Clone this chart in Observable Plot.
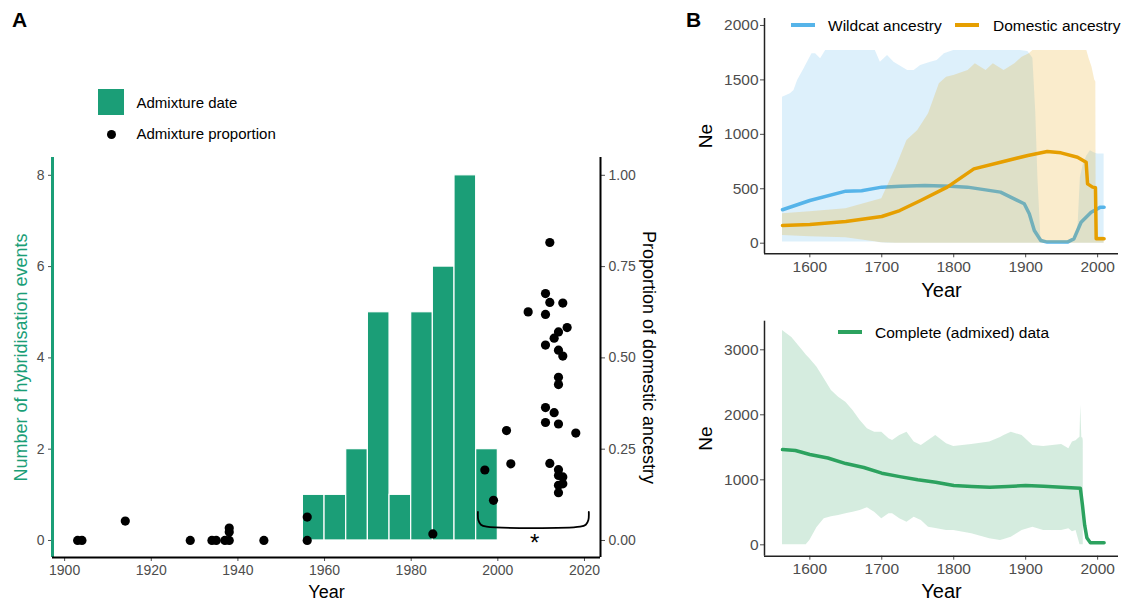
<!DOCTYPE html>
<html><head><meta charset="utf-8">
<script src="https://cdn.jsdelivr.net/npm/d3@7"></script>
<script src="https://cdn.jsdelivr.net/npm/@observablehq/plot@0.6"></script>
<style>
body{margin:0;background:#fff;}
#wrap{position:relative;width:1124px;height:601px;overflow:hidden;font-family:"Liberation Sans",Arial,sans-serif;background:#fff;}
.pl{position:absolute;}
.lbl{position:absolute;white-space:nowrap;line-height:20px;color:#000;}
</style></head><body><div id="wrap"></div>
<script>
const FONT = '"Liberation Sans", Arial, sans-serif';
const GREEN_BAR = "#1b9e77";
const BLUE = "#56B4E9", ORANGE = "#E69F00", GREEN_LINE = "#2ca25f";

// ---------- Panel A data ----------
const binStarts = [1955, 1960, 1965, 1970, 1975, 1980, 1985, 1990, 1995];
const binWidth = 5;
const hybridCounts = [1, 1, 2, 5, 1, 5, 6, 8, 2];
const propYears = [1903,1904,1914,1929,1934,1935,1937,1938,1938,1938,1946,1956,1956,1985,1997,1999,2002,2003,2007,
  2011,2011,2011,2011,2011,2012,2012,2012,2013,2013,2014,2014,2014,2014,2014,2014,2014,2014,2014,2015,2015,2015,2015,2016,2018];
const propValues = [0,0,0.053,0,0,0,0,0,0.023,0.034,0,0,0.064,0.018,0.193,0.11,0.301,0.21,0.626,
  0.676,0.619,0.535,0.364,0.323,0.816,0.652,0.211,0.554,0.35,0.571,0.521,0.447,0.427,0.319,0.194,0.178,0.151,0.131,0.65,0.505,0.174,0.155,0.583,0.294];
const yearTicksA = [1900, 1920, 1940, 1960, 1980, 2000, 2020];
const countTicks = [0, 2, 4, 6, 8];
const propTickLabels = ["0.00", "0.25", "0.50", "0.75", "1.00"];
const maxCount = 8;
const bracketYears = [1995.4, 1995.5, 1996.1, 1997.4, 2019.0, 2020.3, 2020.9, 2021.0];
const bracketProps = [0.078, 0.056, 0.043, 0.038, 0.038, 0.043, 0.056, 0.078];
const starYear = 2008.5, starProp = -0.008;

// ---------- Panel B (top) data ----------
const wildBandYears = [1562,1573,1578,1583,1592,1603,1608,1615,1622,1691,1698,1708,1717,1736,1745,1754,1768,1777,1787,1800,1893,1903,1910,1914,1917,1921,1924,1965,1970,1973,1976,1980,1985,1990,1995,2000,2009];
const wildBandHi = [1341,1372,1403,1495,1602,1740,1740,1694,1770,1770,1663,1724,1663,1587,1587,1633,1663,1678,1740,1770,1770,1760,1700,1200,600,60,25,25,60,180,600,720,800,850,830,820,820];
const wildBandLo = [10,10,10,10,10,10,10,10,10,10,5,0,0,0,0,0,0,0,0,0,0,0,0,0,0,0,0,0,0,0,0,0,0,0,0,0,0];
const domBandYears = [1562,1600,1650,1700,1720,1735,1750,1765,1780,1790,1800,1820,1830,1845,1855,1870,1885,1895,1905,1910,1985,1988,1992,1996,1997.5,1998,2009];
const domBandHi = [270,290,316,408,698,943,1035,1189,1464,1525,1541,1587,1648,1587,1648,1587,1648,1709,1740,1770,1770,1700,1620,1500,1480,60,60];
const domBandLo = [71,60,49,5,0,0,0,0,0,0,0,0,0,0,0,0,0,0,0,0,0,0,0,0,0,0,0];
const wildYears = [1562,1600,1650,1672,1700,1726,1760,1796,1819,1865,1898,1905,1912,1921,1930,1958,1967,1977,1991,2004,2009];
const wildNe = [307,392,478,482,515,524,530,524,515,469,362,270,117,25,10,10,40,193,285,331,331];
const domYears = [1562,1600,1650,1700,1725,1754,1791,1828,1865,1903,1930,1949,1972,1984,1986,1993,1997,1998,2009];
const domNe = [163,172,199,245,300,392,515,683,744,806,842,830,790,744,545,515,510,40,40];
const yearTicksB = [1600, 1700, 1800, 1900, 2000];
const neTicksTop = [0, 500, 1000, 1500, 2000];

// ---------- Panel B (bottom) data ----------
const compBandYears = [1562,1575,1590,1595,1600,1610,1620,1630,1640,1650,1660,1670,1680,1690,1700,1710,1715,1725,1735,1745,1755,1765,1775,1790,1800,1825,1850,1865,1870,1880,1895,1910,1925,1950,1960,1965,1970,1973,1975.5,1976.5,1978,1979.5,1980];
const compBandHi = [3297,3190,2990,2920,2861,2733,2554,2374,2272,2195,2067,1913,1785,1733,1733,1631,1605,1682,1733,1580,1528,1605,1682,1554,1513,1544,1580,1650,1682,1733,1682,1528,1513,1544,1477,1580,1600,1630,1656,2150,1650,1640,1600];
const compBandLo = [0,0,0,0,66,267,400,430,450,477,500,528,569,503,400,477,477,400,349,426,374,272,250,221,221,170,92,67,80,118,221,272,221,221,246,200,221,100,0,0,0,0,0];
const compYears = [1562,1580,1600,1625,1650,1675,1700,1725,1750,1775,1800,1825,1850,1875,1900,1925,1950,1976,1979,1982,1985,1990,2009];
const compNe = [1466,1450,1390,1335,1250,1190,1102,1049,1000,964,912,897,887,897,912,902,887,870,600,300,110,30,30];
const neTicksBottom = [0, 1000, 2000, 3000];

// ---------- tables ----------
const bars = binStarts.map((s, i) => ({start: s, end: s + binWidth, count: hybridCounts[i]}));
const points = propYears.map((y, i) => ({year: y, prop: propValues[i]}));
const bracket = bracketYears.map((y, i) => ({year: y, prop: bracketProps[i]}));
const star = [{year: starYear, prop: starProp, label: "*"}];
const band = (ys, lo, hi) => ys.map((y, i) => ({year: y, lo: lo[i], hi: hi[i]}));
const series = (ys, v) => ys.map((y, i) => ({year: y, ne: v[i]}));

const wrap = document.getElementById("wrap");
function place(el, left, top) { el.classList.add("pl"); el.style.left = left + "px"; el.style.top = top + "px"; wrap.appendChild(el); }

// ---------- Panel A ----------
const xDomA = [1897.2, 2023.7], yDomA = [-0.373, 8.39];
const plotA = Plot.plot({
  width: 680, height: 601,
  marginLeft: 52, marginRight: 80, marginTop: 157, marginBottom: 44,
  x: {domain: xDomA}, y: {domain: yDomA},
  style: {fontFamily: FONT, fontSize: "14px", color: "#4d4d4d", background: "transparent", overflow: "visible"},
  marks: [
    Plot.rectY(bars, {x1: "start", x2: "end", y1: 0, y2: "count", fill: GREEN_BAR, stroke: "white", strokeWidth: 1.2}),
    Plot.dot(points, {x: "year", y: d => d.prop * maxCount, r: 4.6, fill: "black", stroke: "none"}),
    Plot.line(bracket, {x: "year", y: d => d.prop * maxCount, curve: "catmull-rom", stroke: "black", strokeWidth: 1.8}),
    Plot.text(star, {x: "year", y: d => d.prop * maxCount, text: "label", fontSize: 24, fill: "black", lineAnchor: "middle"}),
    Plot.axisX({ticks: yearTicksA, tickSize: 4, tickPadding: 4, label: null, tickFormat: d => String(d)}),
    Plot.axisY({anchor: "left", ticks: countTicks, tickSize: 4, tickPadding: 4, label: null}),
    Plot.axisY({anchor: "right", ticks: countTicks, tickSize: 4, tickPadding: 4, label: null,
      tickFormat: d => propTickLabels[countTicks.indexOf(d)]}),
    Plot.ruleX([xDomA[0]], {stroke: GREEN_BAR, strokeWidth: 3}),
    Plot.ruleX([xDomA[1]], {stroke: "black", strokeWidth: 2}),
    Plot.ruleY([yDomA[0]], {stroke: "black", strokeWidth: 2}),
    Plot.text(["Number of hybridisation events"], {text: d => d, frameAnchor: "left", textAnchor: "middle", rotate: -90, dx: -31, fontSize: 18, fill: GREEN_BAR, lineAnchor: "middle"}),
    Plot.text(["Proportion of domestic ancestry"], {text: d => d, frameAnchor: "right", textAnchor: "middle", rotate: 90, dx: 48, fontSize: 18, fill: "black", lineAnchor: "middle"}),
    Plot.text(["Year"], {text: d => d, frameAnchor: "bottom", textAnchor: "middle", dy: 40, fontSize: 18, fill: "black", lineAnchor: "bottom"})
  ]
});
place(plotA, 0, 0);

// ---------- Panel B top ----------
const xDomB = [1537, 2029], yDomB1 = [-97.4, 2064];
const plotB1 = Plot.plot({
  width: 444, height: 300,
  marginLeft: 84, marginRight: 6, marginTop: 18, marginBottom: 46.7,
  x: {domain: xDomB}, y: {domain: yDomB1},
  style: {fontFamily: FONT, fontSize: "15.5px", color: "#4d4d4d", background: "transparent", overflow: "visible"},
  marks: [
    Plot.areaY(band(wildBandYears, wildBandLo, wildBandHi), {x: "year", y1: "lo", y2: "hi", fill: BLUE, fillOpacity: 0.2}),
    Plot.line(series(wildYears, wildNe), {x: "year", y: "ne", stroke: BLUE, strokeWidth: 3.5}),
    Plot.areaY(band(domBandYears, domBandLo, domBandHi), {x: "year", y1: "lo", y2: "hi", fill: ORANGE, fillOpacity: 0.2}),
    Plot.line(series(domYears, domNe), {x: "year", y: "ne", stroke: ORANGE, strokeWidth: 3.5}),
    Plot.axisX({ticks: yearTicksB, tickSize: 4, tickPadding: 3, label: null, tickFormat: d => String(d)}),
    Plot.axisY({anchor: "left", ticks: neTicksTop, tickSize: 4, tickPadding: 2, label: null, tickFormat: d => String(d)}),
    Plot.ruleX([xDomB[0]], {stroke: "#222", strokeWidth: 1.5}),
    Plot.ruleY([yDomB1[0]], {stroke: "#222", strokeWidth: 1.5}),
    Plot.text(["Ne"], {text: d => d, frameAnchor: "left", textAnchor: "middle", rotate: -90, dx: -59, fontSize: 19, fill: "black", lineAnchor: "middle"}),
    Plot.text(["Year"], {text: d => d, frameAnchor: "bottom", textAnchor: "middle", dy: 42.7, fontSize: 20, fill: "black", lineAnchor: "bottom"})
  ]
});
place(plotB1, 680, 0);

// ---------- Panel B bottom ----------
const yDomB2 = [-175, 3440];
const plotB2 = Plot.plot({
  width: 444, height: 301,
  marginLeft: 84, marginRight: 6, marginTop: 20.7, marginBottom: 45.3,
  x: {domain: xDomB}, y: {domain: yDomB2},
  style: {fontFamily: FONT, fontSize: "15.5px", color: "#4d4d4d", background: "transparent", overflow: "visible"},
  marks: [
    Plot.areaY(band(compBandYears, compBandLo, compBandHi), {x: "year", y1: "lo", y2: "hi", fill: GREEN_LINE, fillOpacity: 0.2}),
    Plot.line(series(compYears, compNe), {x: "year", y: "ne", stroke: GREEN_LINE, strokeWidth: 3.5}),
    Plot.axisX({ticks: yearTicksB, tickSize: 4, tickPadding: 3, label: null, tickFormat: d => String(d)}),
    Plot.axisY({anchor: "left", ticks: neTicksBottom, tickSize: 4, tickPadding: 2, label: null, tickFormat: d => String(d)}),
    Plot.ruleX([xDomB[0]], {stroke: "#222", strokeWidth: 1.5}),
    Plot.ruleY([yDomB2[0]], {stroke: "#222", strokeWidth: 1.5}),
    Plot.text(["Ne"], {text: d => d, frameAnchor: "left", textAnchor: "middle", rotate: -90, dx: -59, fontSize: 19, fill: "black", lineAnchor: "middle"}),
    Plot.text(["Year"], {text: d => d, frameAnchor: "bottom", textAnchor: "middle", dy: 41.3, fontSize: 20, fill: "black", lineAnchor: "bottom"})
  ]
});
place(plotB2, 680, 300);

// ---------- HTML labels & legends ----------
function label(text, left, top, size, extra) {
  const d = document.createElement("div");
  d.className = "lbl"; d.textContent = text;
  d.style.left = left + "px"; d.style.top = top + "px"; d.style.fontSize = size + "px";
  if (extra) Object.assign(d.style, extra);
  wrap.appendChild(d); return d;
}
function swatch(left, top, w, h, color, radius) {
  const d = document.createElement("div");
  Object.assign(d.style, {position: "absolute", left: left + "px", top: top + "px", width: w + "px", height: h + "px", background: color, borderRadius: radius || "0"});
  wrap.appendChild(d);
}
label("A", 12, 9, 21, {fontWeight: "bold", lineHeight: "21px"});
label("B", 686, 9, 21, {fontWeight: "bold", lineHeight: "21px"});
// Panel A legend
swatch(97.5, 88.7, 26.5, 26.5, GREEN_BAR);
label("Admixture date", 136.5, 93.2, 15);
swatch(107.2, 129.6, 9, 9, "black", "50%");
label("Admixture proportion", 136.5, 124.4, 15);
// Panel B top legend
swatch(791, 23, 24, 4, BLUE);
label("Wildcat ancestry", 828, 16.3, 15.5);
swatch(955, 23, 24, 4, ORANGE);
label("Domestic ancestry", 993, 16.3, 15.5);
// Panel B bottom legend
swatch(838, 330.3, 24, 4, GREEN_LINE);
label("Complete (admixed) data", 875, 323, 15.5);
</script>
</body></html>
